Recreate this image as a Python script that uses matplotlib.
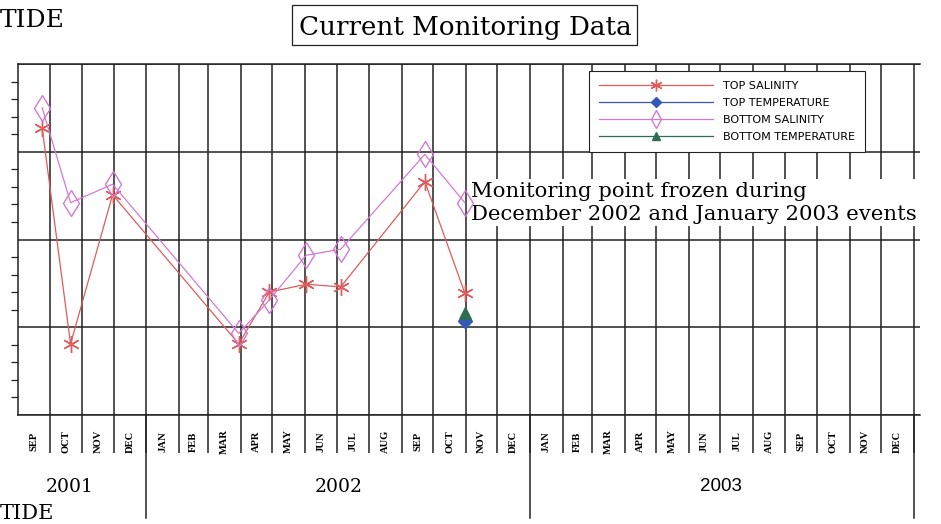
import matplotlib
matplotlib.use("Agg")
import matplotlib.pyplot as plt
import matplotlib.dates as mdates
import matplotlib.transforms as mtransforms
from matplotlib.ticker import MultipleLocator
from matplotlib.patches import Rectangle
import pandas as pd

# values (y axis has no labels, so 0-40 is an arbitrary scale)
sample_dates = ["2001-09-24", "2001-10-21", "2001-11-30", "2002-03-30", "2002-04-28",
                "2002-06-02", "2002-07-05", "2002-09-23", "2002-10-31"]
top_salinity = [32.7, 8.1, 25.1, 8.1, 14.0, 14.9, 14.6, 26.6, 13.9]
bottom_salinity = [35.0, 24.2, 26.3, 9.3, 13.1, 18.2, 18.9, 29.7, 24.2]
temp_dates = ["2002-10-31"]
top_temperature = [10.7]
bottom_temperature = [11.6]

month_labels = ["SEP", "OCT", "NOV", "DEC",
                "JAN", "FEB", "MAR", "APR", "MAY", "JUN", "JUL", "AUG", "SEP", "OCT", "NOV", "DEC",
                "JAN", "FEB", "MAR", "APR", "MAY", "JUN", "JUL", "AUG", "SEP", "OCT", "NOV", "DEC"]
years = ["2001", "2002", "2003"]

RED = "#e05a5a"
BLUE = "#3558b8"
PINK = "#d27ad2"
GREEN = "#2f6e55"
INK = "#222222"

def dn(d):
    return mdates.date2num(pd.to_datetime(d))

month_starts = pd.date_range("2001-09-01", periods=len(month_labels) + 1, freq="MS")
month_mids = [a + (b - a) / 2 for a, b in zip(month_starts[:-1], month_starts[1:])]
year_starts = [pd.Timestamp("2001-09-01"), pd.Timestamp("2002-01-01"),
               pd.Timestamp("2003-01-01"), pd.Timestamp("2004-01-01")]

fig = plt.figure(figsize=(9.41, 5.24), dpi=100)
ax = fig.add_axes([18 / 941, 109 / 524, 902 / 941, 351 / 524])

x = dn(sample_dates)
tx = dn(temp_dates)
ax.plot(x, top_salinity, color=RED, lw=0.9, marker=(6, 2, 0), ms=12, mew=1,
        label="TOP SALINITY", zorder=3)
ax.plot(tx, top_temperature, color=BLUE, lw=0.9, marker="D", ms=7, mec=BLUE,
        label="TOP TEMPERATURE", zorder=3)
ax.plot(x, bottom_salinity, color=PINK, lw=0.9, marker="d", ms=13, mfc="none", mew=1,
        label="BOTTOM SALINITY", zorder=3)
ax.plot(tx, bottom_temperature, color=GREEN, lw=0.9, marker="^", ms=9,
        label="BOTTOM TEMPERATURE", zorder=3)

ax.set_xlim(dn("2001-09-01"), dn("2004-01-07"))
ax.set_ylim(0, 40)
ax.yaxis.set_major_locator(MultipleLocator(10))
ax.yaxis.set_minor_locator(MultipleLocator(2))
ax.tick_params(axis="y", which="major", length=0, labelleft=False)
ax.tick_params(axis="y", which="minor", length=5, width=0.9, direction="out", color=INK)

ax.set_xticks(dn(month_starts[1:]))
ax.set_xticklabels([])
ax.set_xticks(dn(month_mids), month_labels, minor=True)
ax.tick_params(axis="x", which="major", length=27, width=1.1, direction="out", color=INK)
ax.tick_params(axis="x", which="minor", length=0, pad=19)
for lab in ax.get_xticklabels(minor=True):
    lab.set_rotation(90)
    lab.set_va("center")
    lab.set_ha("center")
    lab.set_fontsize(7.6)
    lab.set_fontweight("bold")
    lab.set_family("Liberation Serif")

ax.grid(True, which="major", color=INK, lw=1.1)
ax.set_axisbelow(True)
ax.spines["right"].set_visible(False)
for s in ["left", "top", "bottom"]:
    ax.spines[s].set_color(INK)
    ax.spines[s].set_linewidth(1.1)

# year brackets under the month labels
trans = mtransforms.blended_transform_factory(ax.transData, ax.transAxes)
for d in year_starts[1:]:
    ax.plot([dn(d), dn(d)], [0, -0.293], transform=trans, color=INK, lw=1.1, clip_on=False)
year_x = ["2001-10-20", "2002-07-03", "2003-07-02"]
for i, y in enumerate(years):
    fam = "Liberation Sans" if i == 2 else "DejaVu Serif"
    ax.text(dn(year_x[i]), -0.205, y, transform=trans, ha="center", va="center",
            fontsize=13.5, family=fam)

leg = ax.legend(loc="upper left", bbox_to_anchor=(589 / 941, 1 - 71 / 524),
                bbox_transform=fig.transFigure, borderaxespad=0, markerscale=0.7,
                handlelength=10.3, handletextpad=0.9, labelspacing=0.62, borderpad=0.9,
                frameon=True, fancybox=False, framealpha=1, edgecolor=INK,
                prop={"family": "DejaVu Sans", "size": 8})
leg.get_frame().set_linewidth(0.8)
leg.set_zorder(6)

ax.text(dn("2002-11-06"), 0.665, "Monitoring point frozen during\nDecember 2002 and January 2003 events",
        transform=trans, ha="left", va="top", fontsize=15.3, family="DejaVu Serif",
        linespacing=1.3, zorder=2.5,
        bbox=dict(boxstyle="square,pad=0.1", fc="white", ec="none"))

# title box and page headers
fig.patches.append(Rectangle((292 / 941, 1 - 45 / 524), 345 / 941, 40 / 524,
                             transform=fig.transFigure, fill=False, ec=INK, lw=0.9))
fig.text(465 / 941, 1 - 35 / 524, "Current Monitoring Data", ha="center", va="baseline",
         fontsize=18.8, family="DejaVu Serif")
fig.text(0, 1 - 27 / 524, "TIDE", ha="left", va="baseline", fontsize=18,
         family="DejaVu Serif")
fig.text(0, 0.002, "TIDE", ha="left", va="bottom", fontsize=15,
         family="DejaVu Serif")

fig.savefig("out.png", dpi=100, facecolor="white")
